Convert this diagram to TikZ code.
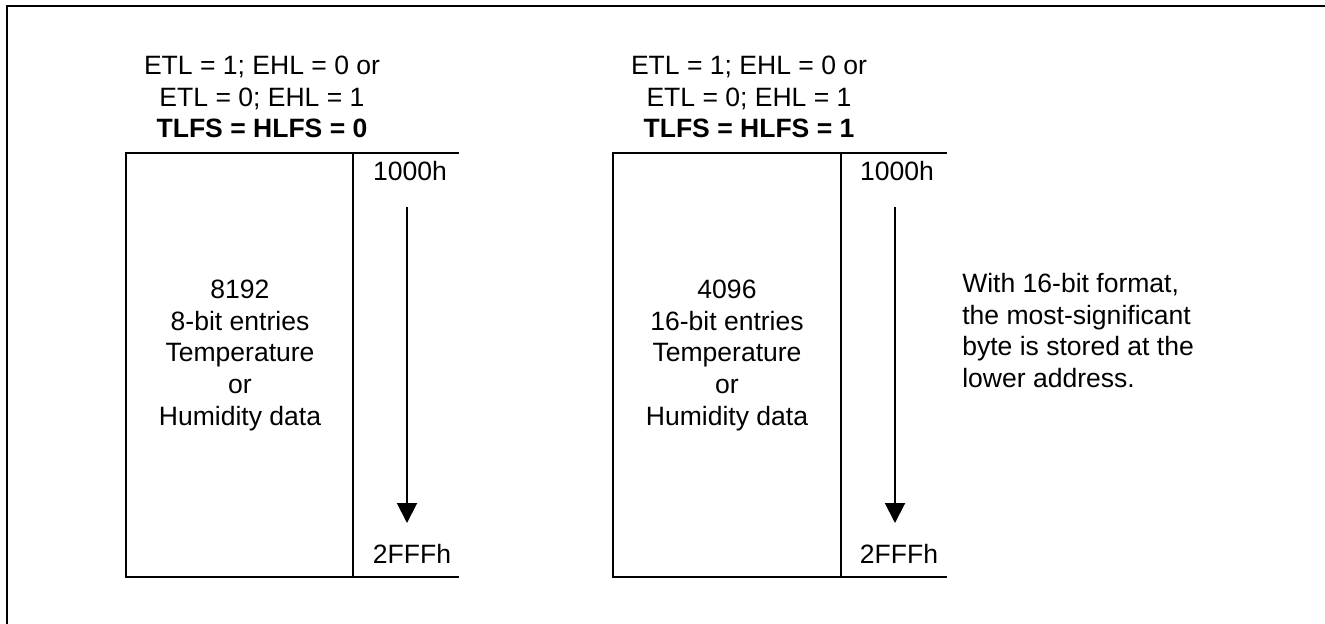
\documentclass[tikz,border=0pt]{standalone}
\usepackage{fontspec}
\setmainfont{Liberation Sans}
\usetikzlibrary{arrows.meta,positioning}

\tikzset{
  txt/.style={font=\fontsize{19.9}{23.7}\selectfont, inner sep=0pt, align=center, anchor=north},
  memline/.style={line width=1.5pt},
  flow/.style={line width=1.5pt, -{Triangle[width=15pt,length=15pt]}}
}

\begin{document}
\begin{tikzpicture}[x=0.75pt,y=-0.75pt]
  \useasboundingbox (0,0) rectangle (1325,624);
  \draw[line width=1.5pt] (7,630) -- (7,6) -- (1330,6);

  % left memory map
  \node[txt] (hdl) at (262,56) {ETL = 1; EHL = 0 or\\ETL = 0; EHL = 1\\\textbf{TLFS = HLFS = 0}};
  \draw[memline] (353,153) -| (126,577) -- (353,577);
  \draw[memline] (459,153) -- (353,153) -- (353,577) -- (459,577);
  \node[txt] (dl) at (240,280) {8192\\8-bit entries\\Temperature\\or\\Humidity data};
  \node[txt] (sl) at (410,161) {1000h};
  \node[txt] (el) at (412,544) {2FFFh};
  \coordinate (al) at (407,207);
  \coordinate (bl) at (407,523);
  \draw[flow] (al) -- (bl);

  % right memory map
  \node[txt] (hdr) at (749,56) {ETL = 1; EHL = 0 or\\ETL = 0; EHL = 1\\\textbf{TLFS = HLFS = 1}};
  \draw[memline] (841,153) -| (613,577) -- (841,577);
  \draw[memline] (947,153) -- (841,153) -- (841,577) -- (947,577);
  \node[txt] (dr) at (727,280) {4096\\16-bit entries\\Temperature\\or\\Humidity data};
  \node[txt] (sr) at (897,161) {1000h};
  \node[txt] (er) at (899,544) {2FFFh};
  \coordinate (ar) at (895,207);
  \coordinate (br) at (895,523);
  \draw[flow] (ar) -- (br);

  \node[txt, align=left, anchor=north west] (note) at (962,273) {With 16-bit format,\\the most-significant\\byte is stored at the\\lower address.};
\end{tikzpicture}
\end{document}
